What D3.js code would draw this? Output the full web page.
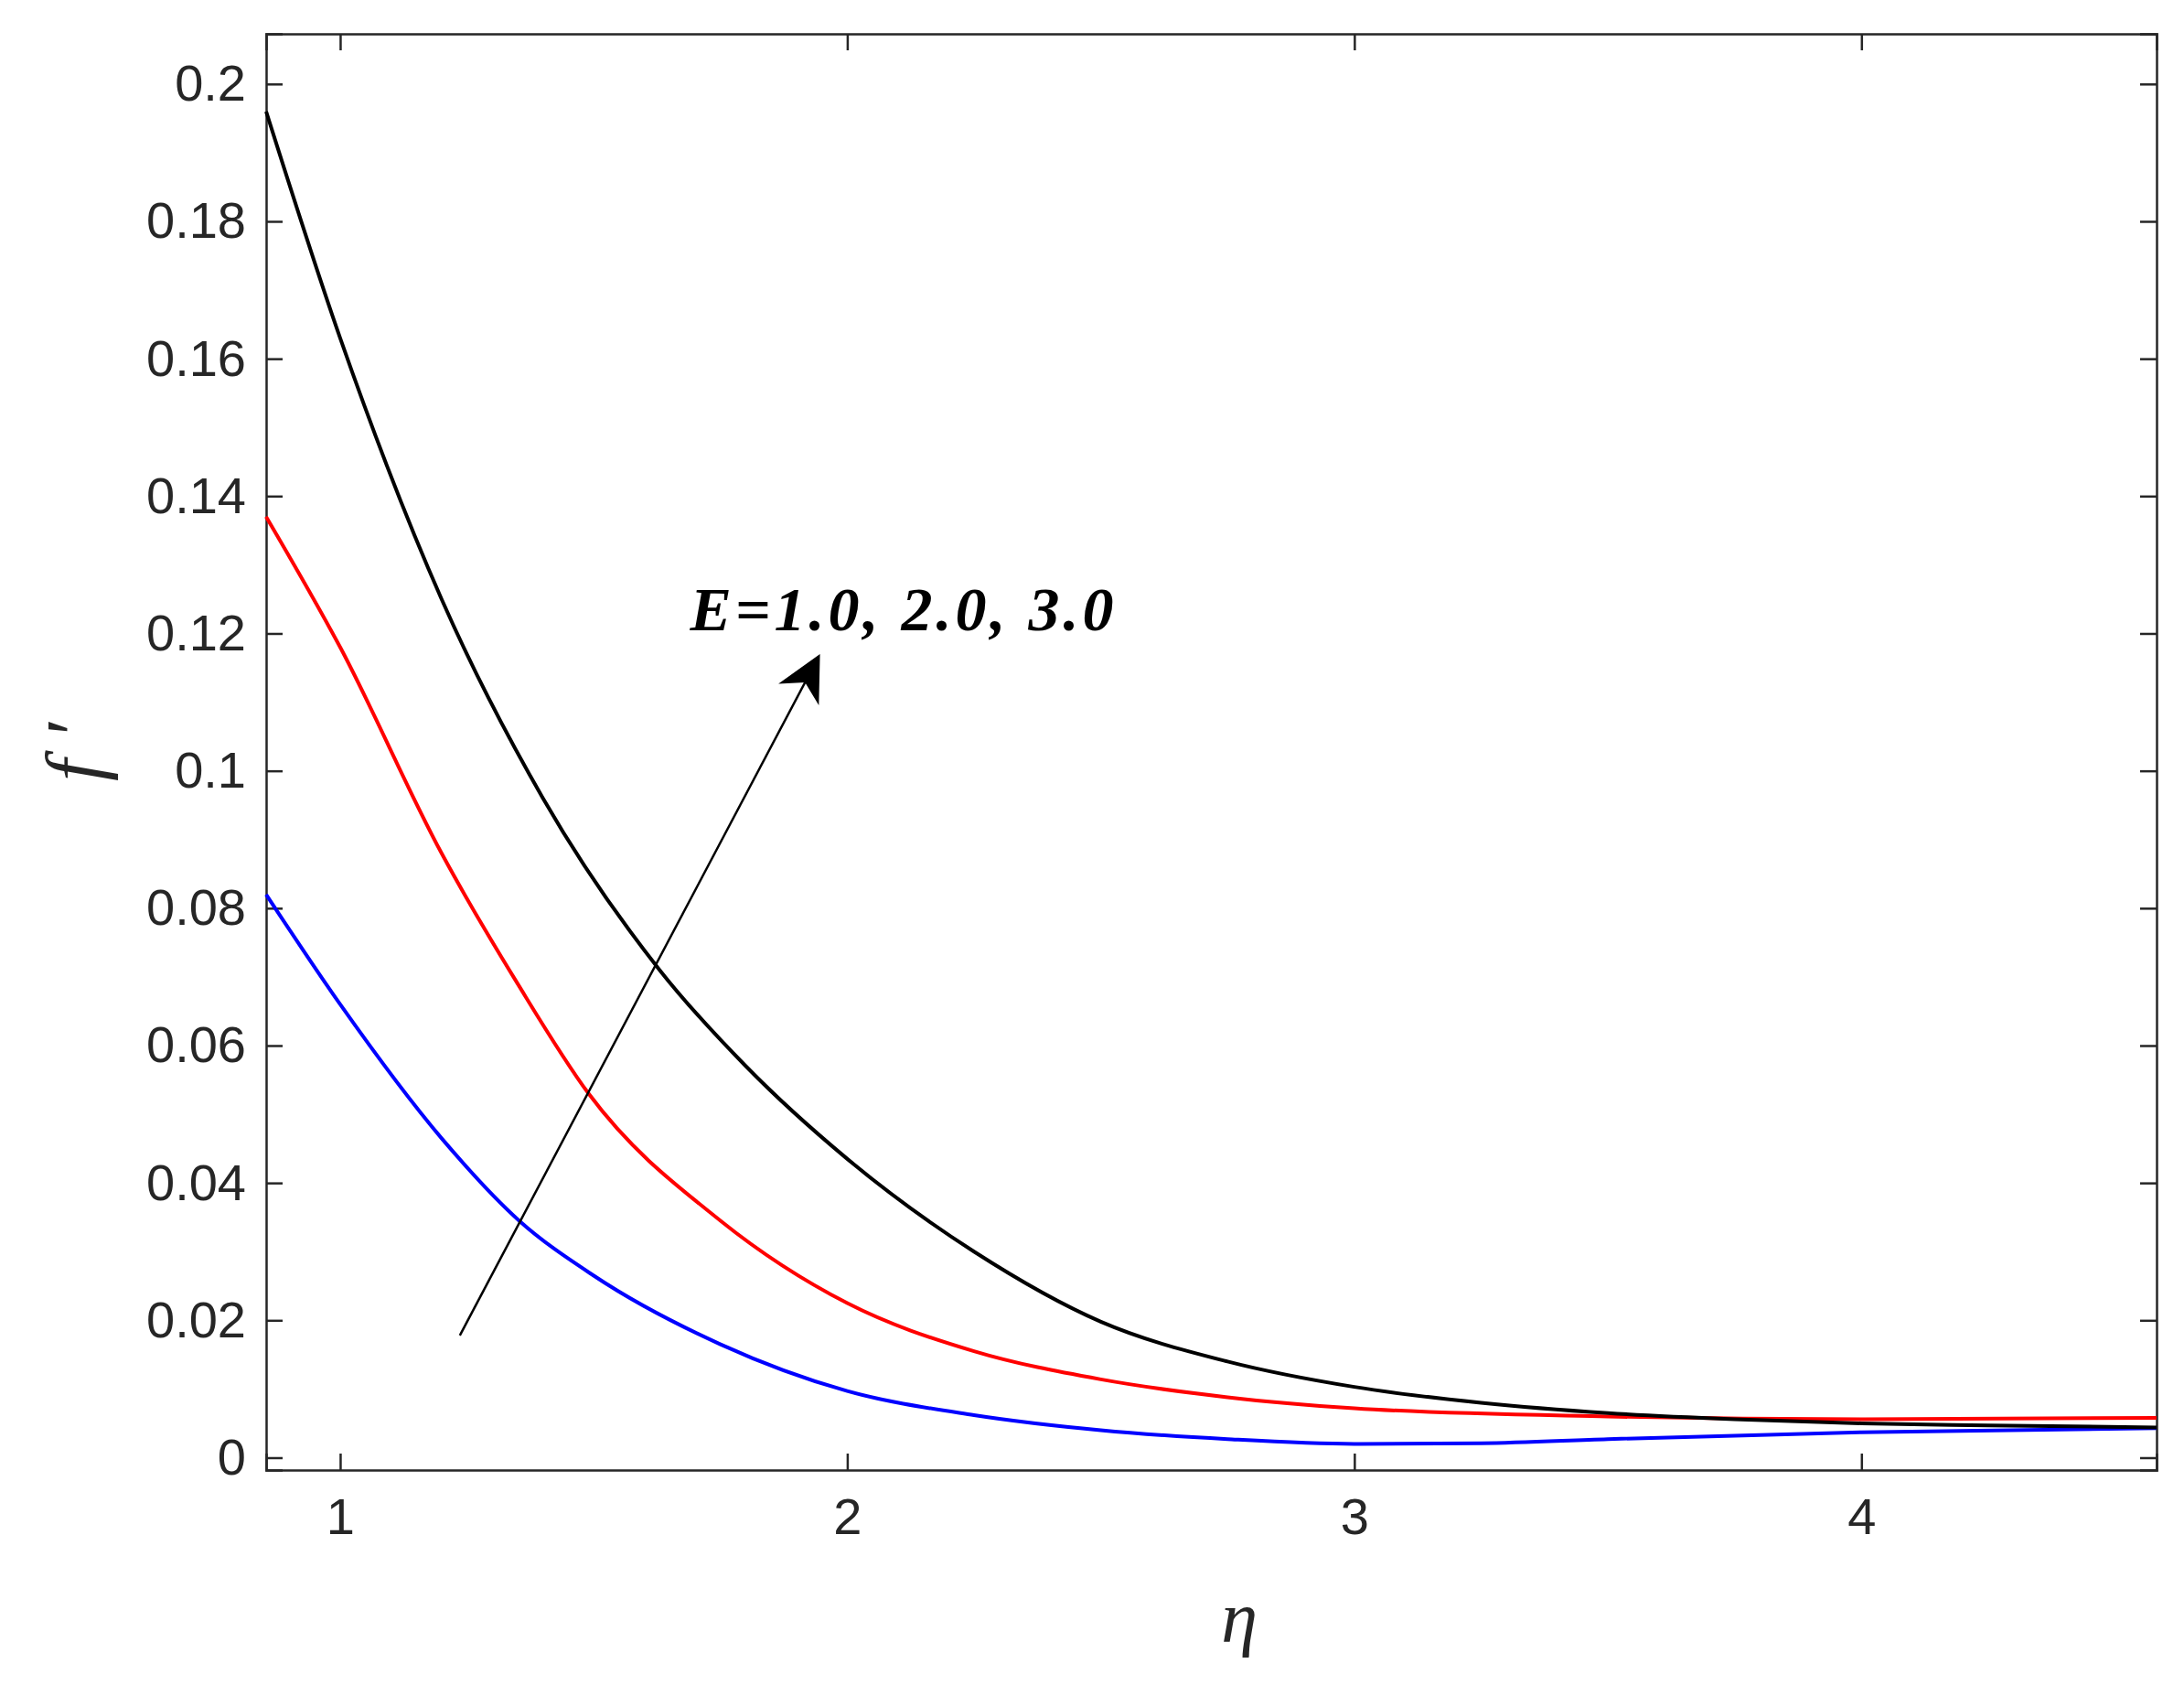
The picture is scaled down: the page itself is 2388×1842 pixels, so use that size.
<!DOCTYPE html><html><head><meta charset="utf-8"><script src="https://cdn.jsdelivr.net/npm/d3@7"></script>
<style>body{margin:0;background:#fff}</style></head><body><svg id="c" width="2388" height="1842"></svg><script>
const etaBlack=[0.854,1.0,1.2,1.4,1.63,1.8,2.0,2.25,2.5,2.75,3.0,3.25,3.5,3.75,4.0,4.25,4.582];
const black=[0.196,0.163,0.125,0.096,0.071,0.057,0.0435,0.030,0.0198,0.0140,0.0103,0.0080,0.0065,0.0056,0.0050,0.0047,0.0044];
const etaRed=[0.854,1.0,1.2,1.35,1.49,1.75,2.0,2.25,2.5,2.75,3.0,3.5,4.0,4.582];
const red=[0.137,0.118,0.088,0.069,0.053,0.0345,0.0225,0.0155,0.0114,0.0088,0.0072,0.0060,0.0056,0.0058];
const etaBlue=[0.854,1.0,1.2,1.353,1.5,1.75,2.0,2.25,2.5,2.75,3.0,3.25,3.5,4.0,4.582];
const blue=[0.082,0.066,0.0465,0.0345,0.0265,0.0165,0.0097,0.0062,0.0040,0.0027,0.0020,0.0021,0.0027,0.0037,0.0043];
const xTicks=[1,2,3,4];
const yTicks=[0,0.02,0.04,0.06,0.08,0.1,0.12,0.14,0.16,0.18,0.2];
const svg=d3.select("#c");
const L=291,R=2358,T=37,B=1607;
const x=d3.scaleLinear().domain([0.854,4.582]).range([L,R]);
const y=d3.scaleLinear().domain([-0.0018,0.2073]).range([B,T]);
const tc="#262626";
svg.append("g").attr("transform",`translate(0,${B})`).call(d3.axisBottom(x).tickValues(xTicks).tickSize(-18).tickPadding(30).tickFormat(d3.format("d")));
svg.append("g").attr("transform",`translate(0,${T})`).call(d3.axisTop(x).tickValues(xTicks).tickSize(-18).tickFormat(""));
svg.append("g").attr("transform",`translate(${L},0)`).call(d3.axisLeft(y).tickValues(yTicks).tickSize(-18).tickPadding(22).tickFormat(d=>d===0?"0":String(+d.toFixed(2))));
svg.append("g").attr("transform",`translate(${R},0)`).call(d3.axisRight(y).tickValues(yTicks).tickSize(-18).tickFormat(""));
svg.selectAll(".domain,.tick line").attr("stroke",tc).attr("stroke-width",2.5);
svg.selectAll(".tick text").attr("fill",tc).attr("font-family","Liberation Sans, Arial").attr("font-size",56);
const line=d3.line().curve(d3.curveMonotoneX);
const g=svg.append("g");
[[etaBlue,blue,"#0000ff"],[etaRed,red,"#ff0000"],[etaBlack,black,"#000000"]].forEach(([xs,ys,c])=>{
 g.append("path").attr("d",line(xs.map((v,i)=>[x(v),y(ys[i])]))).attr("fill","none").attr("stroke",c).attr("stroke-width",4);
});
svg.append("defs").append("marker").attr("id","ah").attr("viewBox","0 0 10 10").attr("refX",9).attr("refY",5).attr("markerWidth",50).attr("markerHeight",50).attr("orient","auto").attr("markerUnits","userSpaceOnUse")
 .append("path").attr("d","M0,0 L10,5 L0,10 L3,5 Z").attr("fill","#000");
svg.append("line").attr("x1",x(1.236)).attr("y1",y(0.0178)).attr("x2",x(1.942)).attr("y2",y(0.1164)).attr("stroke","#000").attr("stroke-width",2.5).attr("marker-end","url(#ah)");
svg.append("text").attr("x",x(1.69)).attr("y",y(0.1205)).attr("font-family","Liberation Serif, Times New Roman").attr("font-weight","bold").attr("font-style","italic").attr("font-size",68).attr("letter-spacing",4).attr("fill","#000").text("E=1.0, 2.0, 3.0");
svg.append("text").attr("transform",`translate(110,${(T+B)/2}) rotate(-90)`).attr("text-anchor","middle").attr("font-family","Liberation Serif").attr("font-style","italic").attr("font-size",86).attr("fill",tc).text("f ′");
svg.append("text").attr("x",1355).attr("y",1795).attr("text-anchor","middle").attr("font-family","Liberation Serif").attr("font-style","italic").attr("font-size",80).attr("fill",tc).text("η");
</script></body></html>
